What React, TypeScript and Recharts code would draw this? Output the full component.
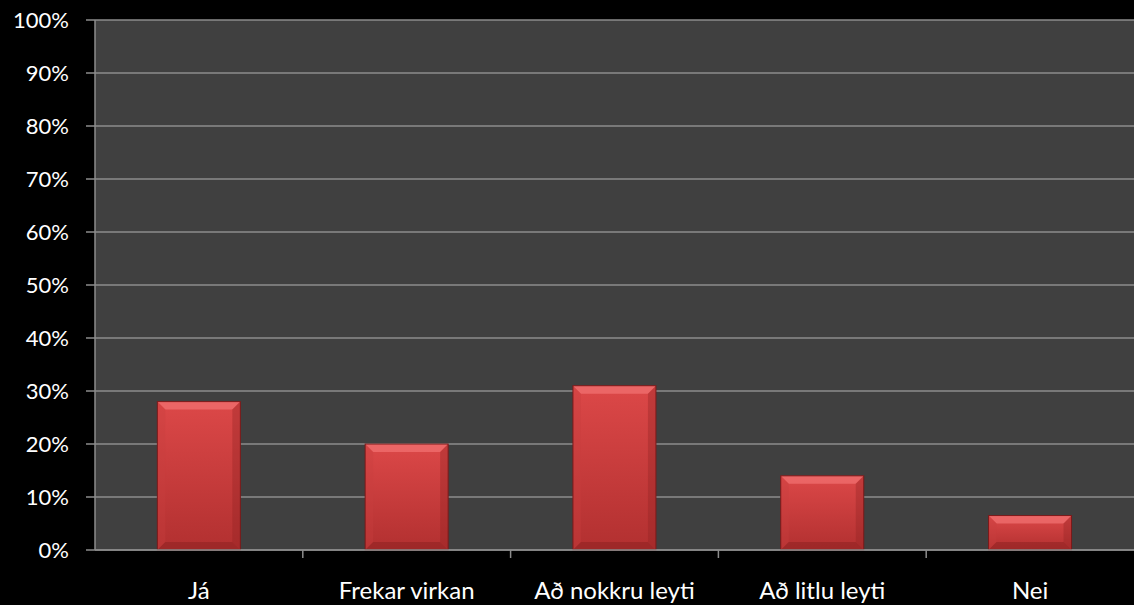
import React from "react";
import { BarChart, Bar, XAxis, YAxis, CartesianGrid } from "recharts";

const categories = ["Já", "Frekar virkan", "Að nokkru leyti", "Að litlu leyti", "Nei"];
const values = [0.28, 0.2, 0.31, 0.14, 0.065];
const yTicks = [0, 0.1, 0.2, 0.3, 0.4, 0.5, 0.6, 0.7, 0.8, 0.9, 1.0];

const data = categories.map((c, i) => ({ name: c, value: values[i] }));

const W = 1134;
const H = 605;
const Y_AXIS_W = 95;
const BAND = (W - Y_AXIS_W) / categories.length;
const FONT = "Lato, 'Open Sans', sans-serif";

const BevelBar = (props: any) => {
  const { x, y, width, height } = props;
  if (!height || height <= 0) return null;
  const b = Math.min(8, height / 3);
  return (
    <g>
      <rect x={x} y={y} width={width} height={height} fill="url(#barGrad)" />
      <polygon
        points={`${x},${y} ${x + width},${y} ${x + width - b},${y + b} ${x + b},${y + b}`}
        fill="#f07070"
        opacity={0.75}
      />
      <polygon
        points={`${x},${y} ${x + b},${y + b} ${x + b},${y + height - b} ${x},${y + height}`}
        fill="#c84040"
        opacity={0.35}
      />
      <polygon
        points={`${x + width},${y} ${x + width - b},${y + b} ${x + width - b},${y + height - b} ${x + width},${y + height}`}
        fill="#8e2222"
        opacity={0.35}
      />
      <polygon
        points={`${x},${y + height} ${x + b},${y + height - b} ${x + width - b},${y + height - b} ${x + width},${y + height}`}
        fill="#8a2020"
        opacity={0.5}
      />
      <rect x={x} y={y} width={width} height={height} fill="none" stroke="#7a1a1a" strokeWidth={1} />
    </g>
  );
};

const XTick = (props: any) => {
  const { x, y, payload, index } = props;
  const left = x - BAND / 2;
  return (
    <g>
      {index > 0 && <line x1={left} y1={y - 8} x2={left} y2={y} stroke="#8c8c8c" strokeWidth={1.5} />}
      <text x={x} y={y + 41} textAnchor="middle" fill="#ffffff" fontSize={24} fontFamily={FONT}>
        {payload.value}
      </text>
    </g>
  );
};

export default function App() {
  return (
    <div style={{ width: W, height: H, background: "#000", position: "absolute", left: 0, top: 0 }}>
      <style>{"body{margin:0;background:#000}"}</style>
      <BarChart
        width={W}
        height={H}
        data={data}
        margin={{ top: 20, right: 0, bottom: 0, left: 0 }}
        barCategoryGap="30%"
      >
        <defs>
          <linearGradient id="barGrad" x1="0" y1="0" x2="0" y2="1">
            <stop offset="0%" stopColor="#dc4848" />
            <stop offset="100%" stopColor="#b23030" />
          </linearGradient>
        </defs>
        <CartesianGrid vertical={false} stroke="#8c8c8c" strokeWidth={1.5} fill="#404040" />
        <XAxis
          dataKey="name"
          height={55}
          axisLine={{ stroke: "#8c8c8c", strokeWidth: 1.5 }}
          tickLine={false}
          tick={<XTick />}
          interval={0}
        />
        <YAxis
          width={Y_AXIS_W}
          domain={[0, 1]}
          ticks={yTicks}
          interval={0}
          tickFormatter={(v: number) => `${Math.round(v * 100)}%`}
          axisLine={{ stroke: "#8c8c8c", strokeWidth: 1.5 }}
          tickLine={{ stroke: "#8c8c8c", strokeWidth: 1.5 }}
          tickSize={9}
          tickMargin={17}
          tick={{ fill: "#ffffff", fontSize: 22, fontFamily: FONT }}
        />
        <Bar dataKey="value" isAnimationActive={false} shape={<BevelBar />} />
      </BarChart>
    </div>
  );
}
